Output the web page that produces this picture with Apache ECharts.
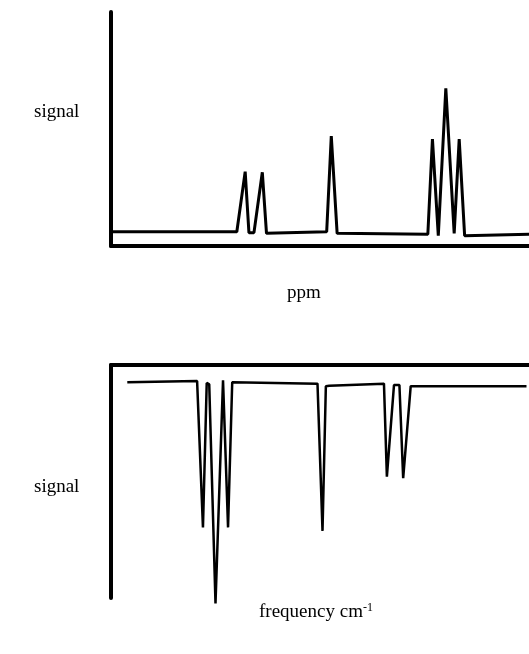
<!DOCTYPE html>
<html>
<head>
<meta charset="utf-8">
<style>
  html, body { margin: 0; padding: 0; background: #fff; }
  #chart { width: 529px; height: 654px; }
</style>
<script src="https://cdn.jsdelivr.net/npm/echarts@6/dist/echarts.min.js"></script>
</head>
<body>
<div id="chart"></div>
<script>
// NMR-style spectrum: [position, signal]
const nmrX = [0, 30.1, 32.1, 33.0, 34.2, 36.2, 37.2, 51.6, 52.7, 54.1, 75.8, 76.9, 78.3, 80.1, 82.1, 83.3, 84.6, 84.9, 100];
const nmrY = [6.1, 6.1, 31.8, 5.7, 5.7, 31.5, 5.4, 6.1, 47.0, 5.4, 5.0, 45.7, 4.4, 67.4, 5.4, 45.7, 4.4, 5.0, 5.0];

// IR-style spectrum: [frequency position, signal]
const irX = [3.9, 20.6, 22.0, 22.9, 23.5, 25.0, 26.8, 28.0, 29.0, 49.4, 50.6, 51.4, 52.2, 65.3, 66.0, 67.7, 69.0, 69.9, 71.7, 99.4];
const irY = [92.6, 93.1, 30.3, 92.3, 91.7, -2.3, 93.4, 30.3, 92.6, 92.0, 28.8, 90.9, 91.1, 92.0, 52.1, 91.4, 91.4, 51.4, 90.9, 90.9];

// Axis labels
const nmrXLabel = 'ppm';
const irXLabel = 'frequency cm';
const irXSup = '-1';
const yLabel = 'signal';

const pairs = (xs, ys) => xs.map((x, i) => [x, ys[i]]);

const chart = echarts.init(document.getElementById('chart'), null, { renderer: 'canvas' });
const font = '"Liberation Serif", "Times New Roman", serif';
const axisLine = { show: true, onZero: false, lineStyle: { color: '#000', width: 4 } };
const hidden = { axisTick: { show: false }, axisLabel: { show: false }, splitLine: { show: false } };

chart.setOption({
  animation: false,
  backgroundColor: '#fff',
  grid: [
    { left: 111, right: 0, top: 12, bottom: 408 },
    { left: 111, right: 0, top: 365, bottom: 56 }
  ],
  xAxis: [
    { type: 'value', gridIndex: 0, min: 0, max: 100, position: 'bottom', axisLine, ...hidden },
    { type: 'value', gridIndex: 1, min: 0, max: 100, position: 'top', axisLine, ...hidden }
  ],
  yAxis: [
    { type: 'value', gridIndex: 0, min: 0, max: 100, axisLine, ...hidden },
    { type: 'value', gridIndex: 1, min: 0, max: 100, axisLine, ...hidden }
  ],
  series: [
    {
      type: 'line', xAxisIndex: 0, yAxisIndex: 0, data: pairs(nmrX, nmrY),
      symbol: 'none', clip: false,
      lineStyle: { color: '#000', width: 3, join: 'bevel' }
    },
    {
      type: 'line', xAxisIndex: 1, yAxisIndex: 1, data: pairs(irX, irY),
      symbol: 'none', clip: false,
      lineStyle: { color: '#000', width: 2.5, join: 'bevel' }
    }
  ],
  graphic: [
    { type: 'text', left: 34, top: 103, style: { text: yLabel, font: '19px ' + font, fill: '#000' } },
    { type: 'text', left: 287, top: 284, style: { text: nmrXLabel, font: '19px ' + font, fill: '#000' } },
    { type: 'text', left: 34, top: 478, style: { text: yLabel, font: '19px ' + font, fill: '#000' } },
    {
      type: 'text', left: 259, top: 602,
      style: {
        text: '{b|' + irXLabel + '}{s|' + irXSup + '}',
        rich: {
          b: { font: '19px ' + font, fill: '#000' },
          s: { font: '12px ' + font, fill: '#000', verticalAlign: 'top', padding: [0, 0, 8, 0] }
        }
      }
    }
  ]
});
</script>
</body>
</html>
